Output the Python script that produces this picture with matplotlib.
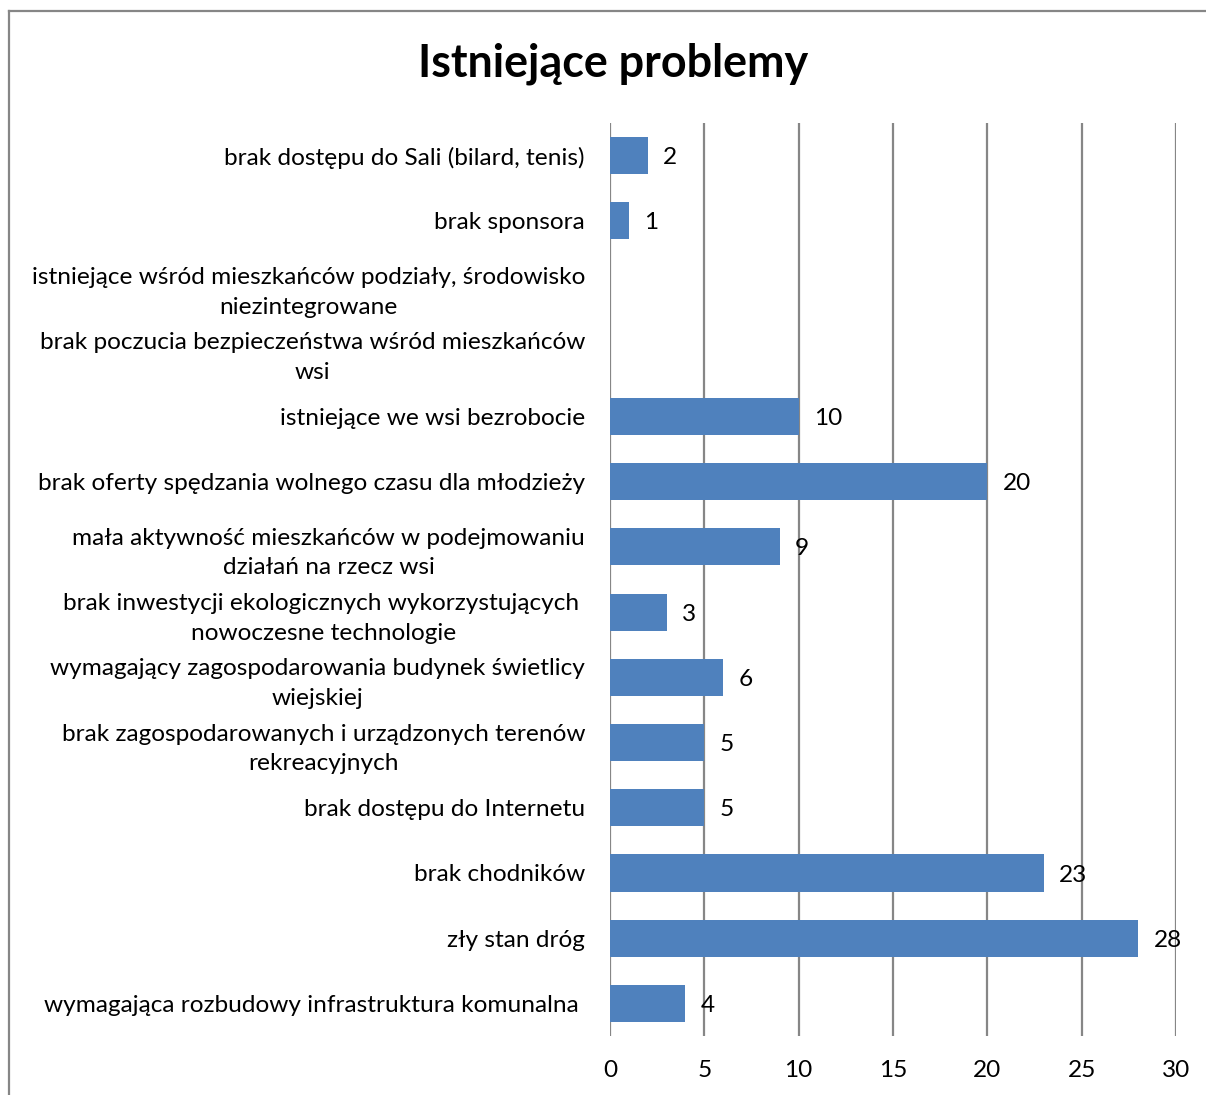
import matplotlib
matplotlib.use("Agg")
import matplotlib.pyplot as plt
from matplotlib.lines import Line2D

categories = [
    "brak dostępu do Sali (bilard, tenis)",
    "brak sponsora",
    "istniejące wśród mieszkańców podziały, środowisko\nniezintegrowane",
    "brak poczucia bezpieczeństwa wśród mieszkańców\nwsi",
    "istniejące we wsi bezrobocie",
    "brak oferty spędzania wolnego czasu dla młodzieży",
    "mała aktywność mieszkańców w podejmowaniu\ndziałań na rzecz wsi",
    "brak inwestycji ekologicznych wykorzystujących \nnowoczesne technologie",
    "wymagający zagospodarowania budynek świetlicy\nwiejskiej",
    "brak zagospodarowanych i urządzonych terenów\nrekreacyjnych",
    "brak dostępu do Internetu",
    "brak chodników",
    "zły stan dróg",
    "wymagająca rozbudowy infrastruktura komunalna ",
]
values = [2, 1, 0, 0, 10, 20, 9, 3, 6, 5, 5, 23, 28, 4]
xticks = [0, 5, 10, 15, 20, 25, 30]
title = "Istniejące problemy"

W, H = 1206, 1095
fig = plt.figure(figsize=(W / 100, H / 100), dpi=100)
fig.patch.set_facecolor("white")
font = "Lato"
plt.rcParams["font.family"] = [font, "DejaVu Sans"]
fs = 17.6

ax = fig.add_axes([610 / W, 1 - 1036 / H, (1176 - 610) / W, (1036 - 123) / H])
pos = list(range(len(categories)))
ax.barh(pos, values, height=0.57, color="#4F81BD", zorder=3)
ax.set_xlim(0, 30)
ax.set_ylim(len(categories) - 0.5, -0.5)
ax.set_xticks(xticks)
ax.set_xticklabels([str(t) for t in xticks])
ax.set_yticks(pos)
ax.set_yticklabels(categories)
for t in ax.get_yticklabels():
    t.set_multialignment("center")
    t.set_linespacing(1.5)
ax.tick_params(axis="y", length=0, pad=18, labelsize=fs)
ax.tick_params(axis="x", length=0, pad=17, labelsize=fs)
ax.grid(axis="x", color="#868686", lw=1.6, zorder=1)
for s in ax.spines.values():
    s.set_visible(False)

for p, v in zip(pos, values):
    if v > 0:
        ax.annotate(str(v), xy=(v, p), xytext=(11, -1.5), textcoords="offset points",
                    va="center", ha="left", fontsize=fs, zorder=4)

fig.text(613 / W, 1 - 64 / H, title, ha="center", va="center",
         fontsize=32.3, fontweight="bold")

fig.add_artist(Line2D([8.5 / W, 8.5 / W], [0, 1 - 11 / H], color="#868686", lw=1.6,
                      transform=fig.transFigure))
fig.add_artist(Line2D([8.5 / W, 1], [1 - 11 / H, 1 - 11 / H], color="#868686", lw=1.6,
                      transform=fig.transFigure))

fig.savefig("out.png", dpi=100)
